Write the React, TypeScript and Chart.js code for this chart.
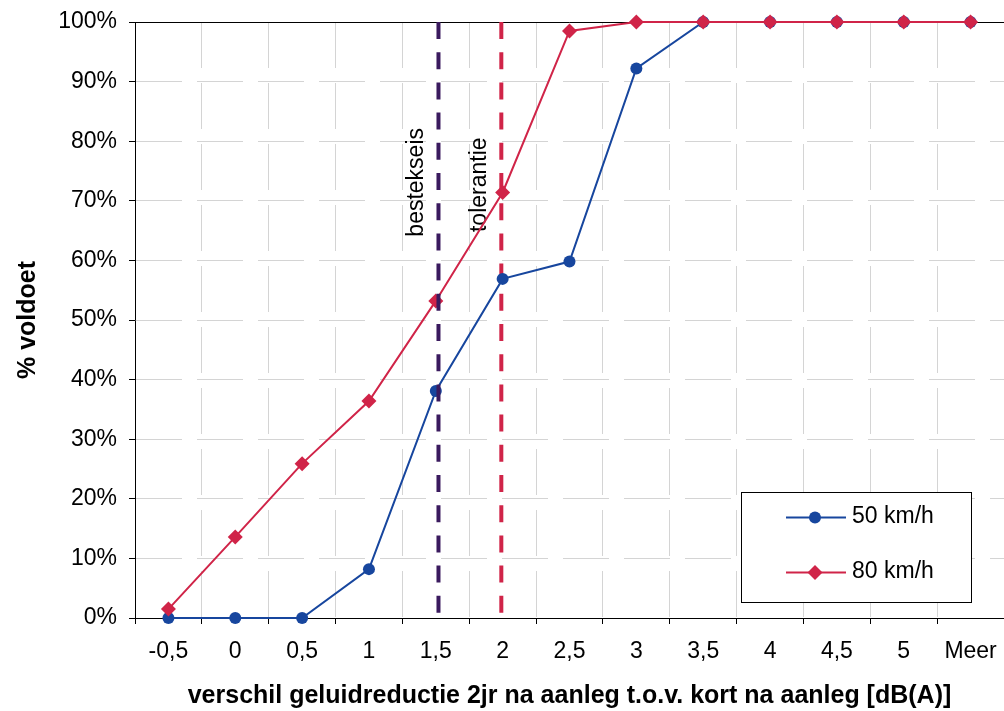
import React, { useEffect, useRef } from 'react';
import { Chart, registerables } from 'chart.js';

Chart.register(...registerables);

// ---- data ----
const categories = ['-0,5', '0', '0,5', '1', '1,5', '2', '2,5', '3', '3,5', '4', '4,5', '5', 'Meer'];
const series50Name = '50 km/h';
const series80Name = '80 km/h';
const series50 = [0, 0, 0, 8.2, 38.1, 56.9, 59.8, 92.2, 100, 100, 100, 100, 100];
const series80 = [1.5, 13.6, 25.9, 36.4, 53.2, 71.4, 98.5, 100, 100, 100, 100, 100, 100];
const yMin = 0;
const yMax = 100;
const yStep = 10;
const thresholdNames = ['bestekseis', 'tolerantie'];
const thresholdIndex = [4.04, 4.98]; // position on the category axis
const thresholdLabelValue = [73.1, 72.7]; // % where the rotated label is centred
const xTitle = 'verschil geluidreductie 2jr na aanleg t.o.v. kort na aanleg [dB(A)]';
const yTitle = '% voldoet';

// ---- styles ----
const FONT = '"Liberation Sans", Arial, Helvetica, sans-serif';
const BLUE = '#17469e';
const RED = '#d02448';
const PURPLE = '#3a1a5e';
const thresholdColors = [PURPLE, RED];
const GRID = '#d4d4d4';

function drawThreshold(chart: any, i: number) {
  const { ctx, chartArea } = chart;
  const x = chart.scales.x.getPixelForValue(thresholdIndex[i]);
  const y = chart.scales.y.getPixelForValue(thresholdLabelValue[i]);
  ctx.save();
  ctx.strokeStyle = thresholdColors[i];
  ctx.lineWidth = 4;
  ctx.setLineDash([17, 13.2]);
  ctx.beginPath();
  ctx.moveTo(x, chartArea.top);
  ctx.lineTo(x, chartArea.bottom);
  ctx.stroke();
  ctx.setLineDash([]);
  ctx.translate(x - 21.5, y);
  ctx.rotate(-Math.PI / 2);
  ctx.fillStyle = '#000';
  ctx.font = `23px ${FONT}`;
  ctx.textAlign = 'center';
  ctx.textBaseline = 'middle';
  ctx.fillText(thresholdNames[i], 0, 0);
  ctx.restore();
}

function drawLegend(chart: any) {
  const { ctx, chartArea } = chart;
  const w = 230;
  const h = 110;
  const bx = chartArea.right - 33 - w;
  const by = chartArea.bottom - 16 - h;
  ctx.save();
  ctx.fillStyle = '#fff';
  ctx.fillRect(bx, by, w, h);
  ctx.strokeStyle = '#000';
  ctx.lineWidth = 1;
  ctx.strokeRect(Math.round(bx) + 0.5, Math.round(by) + 0.5, w, h);
  const rows = [
    { name: series50Name, color: BLUE, shape: 'circle', y: by + 25.5 },
    { name: series80Name, color: RED, shape: 'diamond', y: by + 80.5 },
  ];
  rows.forEach((r) => {
    ctx.strokeStyle = r.color;
    ctx.lineWidth = 2;
    ctx.beginPath();
    ctx.moveTo(bx + 45, r.y);
    ctx.lineTo(bx + 105, r.y);
    ctx.stroke();
    ctx.fillStyle = r.color;
    const mx = bx + 74;
    ctx.beginPath();
    if (r.shape === 'circle') {
      ctx.arc(mx, r.y, 6, 0, Math.PI * 2);
    } else {
      ctx.moveTo(mx, r.y - 7.5);
      ctx.lineTo(mx + 7.5, r.y);
      ctx.lineTo(mx, r.y + 7.5);
      ctx.lineTo(mx - 7.5, r.y);
      ctx.closePath();
    }
    ctx.fill();
    ctx.fillStyle = '#000';
    ctx.font = `23px ${FONT}`;
    ctx.textAlign = 'left';
    ctx.textBaseline = 'middle';
    ctx.fillText(r.name, bx + 111, r.y - 1);
  });
  ctx.restore();
}

const overlayPlugin = {
  id: 'overlay',
  beforeDatasetsDraw(chart: any) {
    const { ctx, chartArea } = chart;
    ctx.save();
    ctx.strokeStyle = '#000';
    ctx.lineWidth = 1;
    ctx.beginPath();
    ctx.moveTo(chartArea.left, Math.round(chartArea.top) + 0.5);
    ctx.lineTo(chartArea.right, Math.round(chartArea.top) + 0.5);
    ctx.stroke();
    ctx.restore();
    drawThreshold(chart, 1);
  },
  afterDatasetsDraw(chart: any) {
    drawThreshold(chart, 0);
    drawLegend(chart);
  },
};

export default function App() {
  const ref = useRef<HTMLCanvasElement | null>(null);
  useEffect(() => {
    if (!ref.current) return;
    const chart = new Chart(ref.current, {
      type: 'line',
      data: {
        labels: categories,
        datasets: [
          {
            label: series50Name,
            data: series50,
            borderColor: BLUE,
            backgroundColor: BLUE,
            borderWidth: 2,
            pointStyle: 'circle',
            pointRadius: 6,
            pointBorderWidth: 0,
            pointBackgroundColor: BLUE,
            tension: 0,
            order: 2,
            clip: false,
          },
          {
            label: series80Name,
            data: series80,
            borderColor: RED,
            backgroundColor: RED,
            borderWidth: 2,
            pointStyle: 'rectRot',
            pointRadius: 7.5,
            pointBorderWidth: 0,
            pointBackgroundColor: RED,
            tension: 0,
            order: 1,
            clip: false,
          },
        ],
      },
      options: {
        animation: false,
        responsive: false,
        maintainAspectRatio: false,
        layout: { autoPadding: false, padding: { top: 22, left: 0, right: 0, bottom: 0 } },
        plugins: { legend: { display: false }, tooltip: { enabled: false } },
        scales: {
          x: {
            type: 'category',
            offset: true,
            grid: { offset: true, color: GRID, lineWidth: 1, tickColor: '#000', tickLength: 6, tickWidth: 1 },
            border: { color: '#000', width: 1, dash: [46, 15] },
            ticks: {
              color: '#000',
              font: { size: 23, family: FONT, lineHeight: 2.43 },
              padding: 0,
              maxRotation: 0,
              autoSkip: false,
            },
            title: {
              display: true,
              text: xTitle,
              color: '#000',
              font: { size: 25, weight: 'bold', family: FONT },
              padding: { top: 0, bottom: 0 },
            },
            afterFit(scale: any) {
              scale.height = 93;
              scale.paddingLeft = 0;
              scale.paddingRight = 0;
            },
          },
          y: {
            min: yMin,
            max: yMax,
            grid: { color: GRID, lineWidth: 1, tickColor: '#000', tickLength: 6, tickWidth: 1 },
            border: { color: '#000', width: 1, dash: [46, 15] },
            ticks: {
              stepSize: yStep,
              color: '#000',
              font: { size: 23, family: FONT },
              padding: 12,
              callback: (v: any) => `${v}%`,
            },
            title: {
              display: true,
              text: yTitle,
              color: '#000',
              font: { size: 25, weight: 'bold', family: FONT },
              padding: { top: 13.5, bottom: 0 },
            },
            afterFit(scale: any) {
              scale.width = 135;
              scale.paddingTop = 0;
              scale.paddingBottom = 0;
            },
          },
        },
      },
      plugins: [overlayPlugin],
    });
    return () => chart.destroy();
  }, []);
  return (
    <div style={{ position: 'absolute', left: 0, top: 0, width: 1004, height: 711, background: '#fff' }}>
      <canvas ref={ref} width={1004} height={711} style={{ display: 'block' }} />
    </div>
  );
}
